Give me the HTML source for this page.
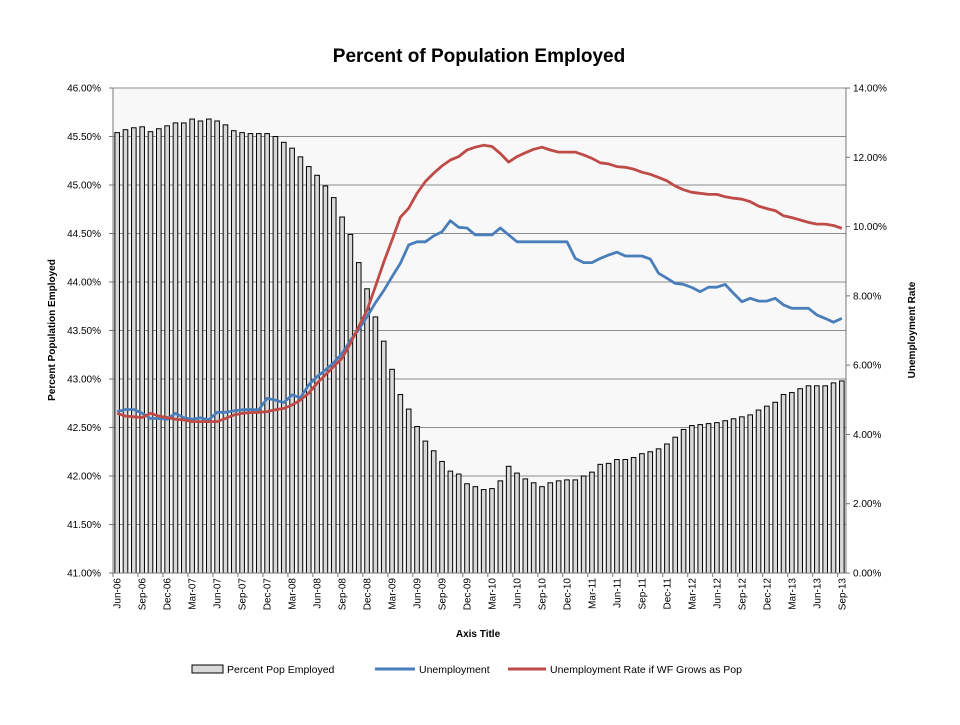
<!DOCTYPE html>
<html><head><meta charset="utf-8"><style>
body{margin:0;background:#fff;font-family:"Liberation Sans",Arial,sans-serif}
svg text{font-family:"Liberation Sans",Arial,sans-serif}
</style></head><body>
<svg id="c" width="960" height="720" xmlns="http://www.w3.org/2000/svg">
<rect x="0" y="0" width="960" height="720" fill="#ffffff"/>
<text x="479" y="62" text-anchor="middle" font-size="19" font-weight="bold">Percent of Population Employed</text>
<g id="grid"></g><g id="bars"></g><g id="lines"></g><g id="axes"></g>
<text transform="translate(55,330) rotate(-90)" text-anchor="middle" font-size="10" font-weight="bold">Percent Population Employed</text>
<text transform="translate(915,330) rotate(-90)" text-anchor="middle" font-size="10" font-weight="bold">Unemployment Rate</text>
<text x="478" y="637" text-anchor="middle" font-size="10" font-weight="bold">Axis Title</text>
<g>
<rect x="192" y="665" width="31" height="8" fill="#d9d9d9" stroke="#000" stroke-width="1"/>
<text x="227" y="673" font-size="10.5">Percent Pop Employed</text>
<line x1="375" y1="669" x2="415" y2="669" stroke="#4a7ebb" stroke-width="3"/>
<text x="419" y="673" font-size="10.5">Unemployment</text>
<line x1="508" y1="669" x2="546" y2="669" stroke="#be4b48" stroke-width="3"/>
<text x="550" y="673" font-size="10.5">Unemployment Rate if WF Grows as Pop</text>
</g>
</svg>
<script>
const months=["Jun-06","Jul-06","Aug-06","Sep-06","Oct-06","Nov-06","Dec-06","Jan-07","Feb-07","Mar-07","Apr-07","May-07","Jun-07","Jul-07","Aug-07","Sep-07","Oct-07","Nov-07","Dec-07","Jan-08","Feb-08","Mar-08","Apr-08","May-08","Jun-08","Jul-08","Aug-08","Sep-08","Oct-08","Nov-08","Dec-08","Jan-09","Feb-09","Mar-09","Apr-09","May-09","Jun-09","Jul-09","Aug-09","Sep-09","Oct-09","Nov-09","Dec-09","Jan-10","Feb-10","Mar-10","Apr-10","May-10","Jun-10","Jul-10","Aug-10","Sep-10","Oct-10","Nov-10","Dec-10","Jan-11","Feb-11","Mar-11","Apr-11","May-11","Jun-11","Jul-11","Aug-11","Sep-11","Oct-11","Nov-11","Dec-11","Jan-12","Feb-12","Mar-12","Apr-12","May-12","Jun-12","Jul-12","Aug-12","Sep-12","Oct-12","Nov-12","Dec-12","Jan-13","Feb-13","Mar-13","Apr-13","May-13","Jun-13","Jul-13","Aug-13","Sep-13"];
const employed=[45.54,45.57,45.59,45.60,45.55,45.58,45.61,45.64,45.64,45.68,45.66,45.68,45.66,45.62,45.56,45.54,45.53,45.53,45.53,45.50,45.44,45.38,45.29,45.19,45.10,44.99,44.87,44.67,44.49,44.20,43.93,43.64,43.39,43.10,42.84,42.69,42.51,42.36,42.26,42.15,42.05,42.02,41.92,41.89,41.86,41.87,41.95,42.10,42.03,41.97,41.93,41.89,41.93,41.95,41.96,41.96,42.00,42.04,42.12,42.13,42.17,42.17,42.19,42.23,42.25,42.28,42.33,42.40,42.48,42.52,42.53,42.54,42.55,42.57,42.59,42.61,42.63,42.68,42.72,42.76,42.84,42.86,42.90,42.93,42.93,42.93,42.96,42.98];
const unemployment=[4.66,4.72,4.72,4.61,4.46,4.46,4.44,4.61,4.48,4.44,4.48,4.42,4.64,4.64,4.68,4.71,4.72,4.71,5.04,4.99,4.92,5.14,5.06,5.43,5.67,5.86,6.07,6.34,6.71,7.03,7.40,7.80,8.15,8.55,8.94,9.47,9.56,9.56,9.73,9.85,10.17,9.98,9.96,9.76,9.76,9.76,9.96,9.76,9.56,9.56,9.56,9.56,9.56,9.56,9.56,9.08,8.96,8.96,9.08,9.18,9.26,9.15,9.15,9.15,9.06,8.65,8.51,8.36,8.33,8.24,8.12,8.25,8.25,8.33,8.07,7.83,7.93,7.85,7.85,7.93,7.74,7.64,7.64,7.64,7.45,7.35,7.24,7.35];
const wfRate=[4.61,4.53,4.51,4.49,4.61,4.53,4.49,4.44,4.42,4.37,4.37,4.37,4.37,4.46,4.56,4.61,4.63,4.64,4.66,4.71,4.75,4.85,4.99,5.19,5.48,5.72,5.96,6.20,6.63,7.11,7.59,8.27,8.97,9.61,10.27,10.53,10.96,11.30,11.54,11.75,11.92,12.02,12.21,12.29,12.35,12.31,12.11,11.86,12.02,12.13,12.23,12.29,12.21,12.15,12.15,12.15,12.07,11.97,11.84,11.81,11.73,11.71,11.66,11.57,11.51,11.42,11.32,11.17,11.06,10.99,10.96,10.93,10.93,10.86,10.82,10.79,10.72,10.59,10.52,10.46,10.31,10.26,10.19,10.12,10.07,10.07,10.03,9.95];
const leftTicks=[41,41.5,42,42.5,43,43.5,44,44.5,45,45.5,46];
const rightTicks=[0,2,4,6,8,10,12,14];

const NS="http://www.w3.org/2000/svg";
const X0=113,X1=846,Y0=573,Y1=88;
const step=(X1-X0)/months.length;
function xc(i){return X0+(i+0.5)*step;}
function yL(v){return Y0-(v-41)/(46-41)*(Y0-Y1);}
function yR(v){return Y0-v/14*(Y0-Y1);}
function mk(tag,attrs,parent){const e=document.createElementNS(NS,tag);for(const k in attrs)e.setAttribute(k,attrs[k]);parent.appendChild(e);return e;}
const grid=document.getElementById('grid'),bars=document.getElementById('bars'),lines=document.getElementById('lines'),axes=document.getElementById('axes');

mk('rect',{x:X0,y:Y1,width:X1-X0,height:Y0-Y1,fill:'#f8f8f8'},grid);
leftTicks.forEach(t=>{
  const y=yL(t);
  const g=mk('line',{x1:X0,x2:X1,y1:y,y2:y,stroke:'#8c8c8c','stroke-width':1},grid);
  
  
  const tx=mk('text',{x:X0-12,y:y+3.5,'text-anchor':'end','font-size':'10'},axes);
  tx.textContent=t.toFixed(2)+'%';
  
  
  mk('line',{x1:X0-4,x2:X0,y1:y,y2:y,stroke:'#777'},axes);
});
rightTicks.forEach(t=>{
  const y=yR(t);
  mk('line',{x1:X1,x2:X1+4,y1:y,y2:y,stroke:'#777'},axes);
  const tx=mk('text',{x:X1+7,y:y+3.5,'font-size':'10'},axes);
  tx.textContent=t.toFixed(2)+'%';
  
  
});
employed.forEach((v,i)=>{
  const y=yL(v);
  const r=mk('rect',{x:xc(i)-2.3,y:y,width:4.6,height:Y0-y,fill:'#d9d9d9',stroke:'#000','stroke-width':1},bars);
  
  
});
function line(arr,color,name){
  const p=mk('polyline',{points:arr.map((v,i)=>xc(i).toFixed(1)+','+yR(v).toFixed(1)).join(' '),fill:'none',stroke:color,'stroke-width':2.8,'stroke-linejoin':'round'},lines);
  
  
}
line(unemployment,'#4a7ebb','unemployment-line');
line(wfRate,'#be4b48','wf-rate-line');
mk('line',{x1:X0,x2:X0,y1:Y1,y2:Y0,stroke:'#777'},axes);
mk('line',{x1:X1,x2:X1,y1:Y1,y2:Y0,stroke:'#777'},axes);
mk('line',{x1:X0,x2:X1,y1:Y0,y2:Y0,stroke:'#777'},axes);
months.forEach((m,i)=>{
  if(i%3===0){
    const x=X0+i*step;
    mk('line',{x1:x,x2:x,y1:Y0,y2:Y0+4,stroke:'#777'},axes);
    const tx=mk('text',{transform:'translate('+(xc(i)+3.5)+','+(Y0+5)+') rotate(-90)','text-anchor':'end','font-size':'10'},axes);
    tx.textContent=m;
    
    
  }
});
</script>
</body></html>
